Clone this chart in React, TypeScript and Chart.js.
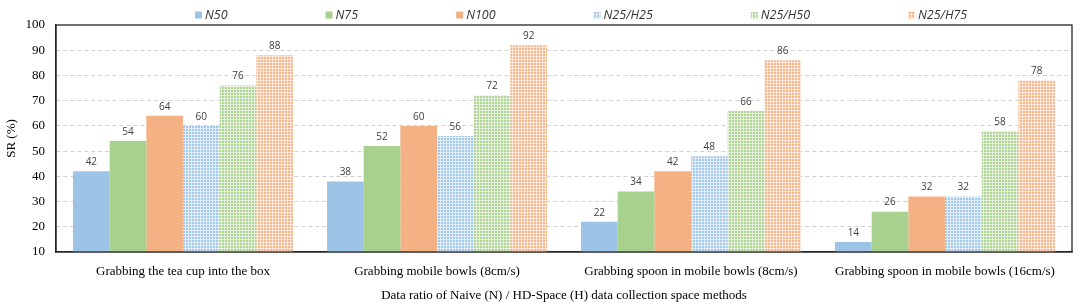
import React, { useEffect, useRef } from "react";
import { Chart, registerables } from "chart.js";

Chart.register(...registerables);

const categories = [
  "Grabbing the tea cup into the box",
  "Grabbing mobile bowls (8cm/s)",
  "Grabbing spoon in mobile bowls (8cm/s)",
  "Grabbing spoon in mobile bowls (16cm/s)",
];
const seriesNames = ["N50", "N75", "N100", "N25/H25", "N25/H50", "N25/H75"];
const n50 = [42, 38, 22, 14];
const n75 = [54, 52, 34, 26];
const n100 = [64, 60, 42, 32];
const n25h25 = [60, 56, 48, 32];
const n25h50 = [76, 72, 66, 58];
const n25h75 = [88, 92, 86, 78];
const yTicks = [10, 20, 30, 40, 50, 60, 70, 80, 90, 100];

const BLUE = "#9DC3E6";
const GREEN = "#A9D18E";
const ORANGE = "#F4B183";

function makePattern(color: string): CanvasPattern | string {
  const c = document.createElement("canvas");
  c.width = 3;
  c.height = 3;
  const ctx = c.getContext("2d");
  if (!ctx) return color;
  ctx.fillStyle = "#ffffff";
  ctx.fillRect(0, 0, 3, 3);
  ctx.fillStyle = color;
  ctx.globalAlpha = 0.3;
  ctx.fillRect(0, 0, 3, 3);
  ctx.globalAlpha = 0.9;
  ctx.fillRect(0, 0, 2, 2);
  const p = ctx.createPattern(c, "repeat");
  return p || color;
}

export default function App() {
  const ref = useRef<HTMLCanvasElement | null>(null);

  useEffect(() => {
    document.body.style.margin = "0";
    const canvas = ref.current;
    if (!canvas) return;
    const values = [n50, n75, n100, n25h25, n25h50, n25h75];
    const fills = [
      BLUE,
      GREEN,
      ORANGE,
      makePattern(BLUE),
      makePattern(GREEN),
      makePattern(ORANGE),
    ];

    const labelPlugin = {
      id: "valueLabels",
      afterDatasetsDraw(chart: any) {
        const ctx = chart.ctx;
        ctx.save();
        ctx.font = "10px 'Open Sans', 'Liberation Sans', sans-serif";
        ctx.fillStyle = "#404040";
        ctx.textAlign = "center";
        ctx.textBaseline = "middle";
        chart.data.datasets.forEach((ds: any, i: number) => {
          const meta = chart.getDatasetMeta(i);
          meta.data.forEach((bar: any, j: number) => {
            ctx.fillText(String(ds.data[j]), bar.x, bar.y - 9);
          });
        });
        ctx.restore();
      },
    };

    const framePlugin = {
      id: "frame",
      afterDraw(chart: any) {
        const { ctx, chartArea } = chart;
        ctx.save();
        ctx.strokeStyle = "#262626";
        ctx.lineWidth = 1.3;
        ctx.strokeRect(
          chartArea.left,
          chartArea.top,
          chartArea.right - chartArea.left,
          chartArea.bottom - chartArea.top
        );
        ctx.restore();
      },
    };

    const legendPlugin = {
      id: "customLegend",
      afterDraw(chart: any) {
        const ctx = chart.ctx;
        ctx.save();
        ctx.font = "italic 12.5px 'Open Sans', 'Liberation Sans', sans-serif";
        ctx.textBaseline = "middle";
        ctx.textAlign = "left";
        const y = 15;
        let x = chart.chartArea.left + 139;
        const gap = 98;
        seriesNames.forEach((name, i) => {
          ctx.fillStyle = fills[i] as any;
          ctx.fillRect(x, y - 3.5, 7, 7);
          ctx.fillStyle = "#333333";
          ctx.fillText(name, x + 10, y);
          x += 10 + ctx.measureText(name).width + gap;
        });
        ctx.restore();
      },
    };

    const chart = new Chart(canvas, {
      type: "bar",
      data: {
        labels: categories,
        datasets: seriesNames.map((name, i) => ({
          label: name,
          data: values[i],
          backgroundColor: fills[i] as any,
          borderWidth: 0,
          categoryPercentage: 0.866,
          barPercentage: 1.0,
        })),
      },
      options: {
        animation: false,
        responsive: false,
        layout: { padding: { top: 25, right: 8, bottom: 0, left: 0 } },
        plugins: {
          legend: { display: false },
          tooltip: { enabled: false },
        },
        scales: {
          x: {
            afterFit: (s: any) => {
              s.height = 53;
            },
            grid: { display: false, drawTicks: false },
            border: { display: true, color: "#262626", width: 1.3 },
            ticks: {
              padding: 12,
              color: "#000000",
              font: { family: "'Liberation Serif', 'Times New Roman', serif", size: 13 },
              maxRotation: 0,
              autoSkip: false,
            },
            title: {
              display: true,
              text: "Data ratio of Naive (N) / HD-Space (H) data collection space methods",
              color: "#000000",
              font: { family: "'Liberation Serif', 'Times New Roman', serif", size: 13 },
              padding: { top: 4, bottom: 2 },
            },
          },
          y: {
            min: 10,
            max: 100,
            afterFit: (s: any) => {
              s.width = 56;
            },
            afterBuildTicks: (s: any) => {
              s.ticks = yTicks.map((v) => ({ value: v }));
            },
            grid: {
              drawTicks: false,
              color: (c: any) =>
                c.tick && (c.tick.value === 10 || c.tick.value === 100)
                  ? "rgba(0,0,0,0)"
                  : "#D0D0D0",
              lineWidth: 1,
            },
            border: { display: true, color: "#262626", width: 1.3, dash: [4, 3] },
            ticks: {
              padding: 11,
              color: "#000000",
              font: { family: "'Liberation Serif', 'Times New Roman', serif", size: 13 },
            },
            title: {
              display: true,
              text: "SR (%)",
              color: "#000000",
              font: { family: "'Liberation Serif', 'Times New Roman', serif", size: 13 },
              padding: { top: 4, bottom: 2 },
            },
          },
        },
      },
      plugins: [labelPlugin, framePlugin, legendPlugin],
    } as any);

    return () => {
      chart.destroy();
    };
  }, []);

  return (
    <div style={{ width: 1080, height: 305 }}>
      <canvas ref={ref} width={1080} height={305} style={{ display: "block" }} />
    </div>
  );
}
